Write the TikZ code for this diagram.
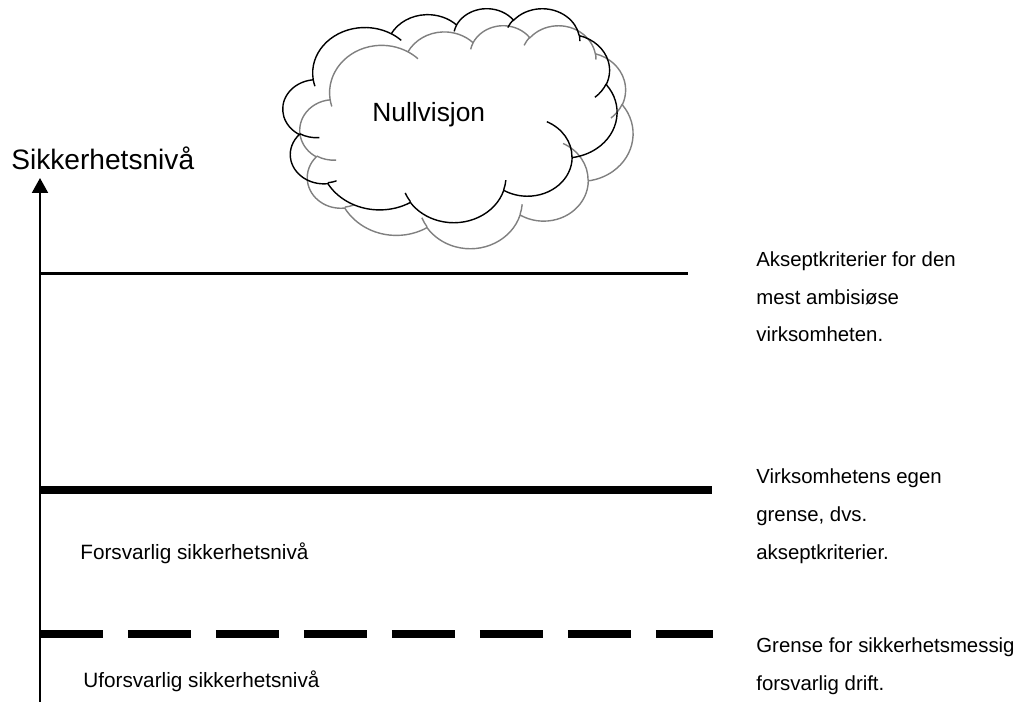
\documentclass[tikz,border=0pt]{standalone}
\usepackage{fontspec}
\setmainfont{Liberation Sans}
\usetikzlibrary{arrows.meta}

% one bump of the cloud: x radius, y radius, start angle, sweep
\newcommand\puffarc[4]{\pgfextra{%
	\pgfmathsetmacro\pa{atan2(sin(#3)/#2,cos(#3)/#1)}%
	\pgfmathsetmacro\pb{atan2(sin(#3+#4)/#2,cos(#3+#4)/#1)}%
	\pgfmathsetmacro\pb{\pb<\pa ? \pb+360 : \pb}}
	arc[start angle=\pa, end angle=\pb, x radius=#1, y radius=#2]}

\newcommand\cloudpath{%
	(3.9,14.37) \puffarc{6.753}{9.19}{-190.4875}{123.7805}
	\puffarc{5.333}{7.267}{-144.1024}{89.9452}
	\puffarc{4.365}{5.945}{-145.8079}{99.7230}
	\puffarc{4.857}{6.595}{-130.9861}{117.2417}
	\puffarc{5.333}{7.273}{-78.7089}{109.0269}
	\puffarc{6.775}{9.22}{-46.2673}{130.2690}
	\puffarc{5.785}{7.867}{0.6250}{114.0333}
	\puffarc{6.752}{9.215}{22.4516}{115.1726}
	\puffarc{7.72}{10.543}{66.2426}{75.7110}
	\puffarc{4.36}{5.918}{-274.9421}{146.7356}
	\puffarc{4.345}{5.945}{-246.8285}{152.5189} -- cycle
	(4.693,26.177) \puffarc{4.345}{5.945}{86.7420}{26.4295}
	(6.928,34.899) \puffarc{4.36}{5.918}{73.6105}{11.4475}
	(16.478,39.09) \puffarc{6.752}{9.215}{137.6242}{14.0811}
	(28.827,34.751) \puffarc{6.752}{9.215}{6.4533}{15.9984}
	(34.129,22.954) \puffarc{5.785}{7.867}{-70.2924}{70.9174}
	(41.798,15.354) \puffarc{5.333}{7.273}{30.3180}{27.7515}
	(38.324,5.426) \puffarc{4.857}{6.595}{-13.7443}{14.8589}
	(29.078,3.952) \puffarc{4.857}{6.595}{-149.1815}{18.1954}
	(22.141,4.72) \puffarc{4.365}{5.945}{-163.4943}{17.6864}
	(14.0,5.192) \puffarc{6.753}{9.19}{-66.7070}{12.3194}
	(4.127,15.789) \puffarc{6.753}{9.19}{157.6544}{11.8582}}

\begin{document}
\begin{tikzpicture}[x=0.02cm, y=-0.02cm,
	lbl/.style={anchor=base west, inner sep=0pt, font=\fontsize{11.6}{14}\selectfont},
	big/.style={anchor=base west, inner sep=0pt, font=\fontsize{15}{18}\selectfont},
	puff/.style={line width=0.8pt}]
	\useasboundingbox (0,0) rectangle (1028,702);

	\begin{scope}[shift={(300,25)}, x=0.15417cm, y=-0.10324cm]
	\draw[puff, gray] \cloudpath;
	\end{scope}
	\begin{scope}[shift={(283,8)}, x=0.15463cm, y=-0.09907cm]
	\draw[puff] \cloudpath;
	\end{scope}
	\node[big] (nv) at (372,122) {Nullvisjon};

	\draw[line width=1.4pt, -{Triangle[length=8.5pt,width=9pt]}] (40,702) to (40,178);
	\node[big, font=\fontsize{16}{19}\selectfont] (axis) at (11,170) {Sikkerhetsnivå};

	\draw[line width=1.5pt] (40,273.5) to (688,273.5);
	\draw[line width=4.5pt] (40,490) to (712,490);
	\draw[line width=4.5pt, dash pattern=on 1.26cm off 0.5cm] (40,634) to (713,634);

	\node[lbl, font=\fontsize{11.8}{14}\selectfont] (safe) at (80,559) {Forsvarlig sikkerhetsnivå};
	\node[lbl, font=\fontsize{11.8}{14}\selectfont] (unsafe) at (83,687) {Uforsvarlig sikkerhetsnivå};

	\node[lbl] (amb1) at (756,267) {Akseptkriterier for den};
	\node[lbl] (amb2) at (756,305) {mest ambisiøse};
	\node[lbl] (amb3) at (756,342) {virksomheten.};

	\node[lbl] (own1) at (756,483) {Virksomhetens egen};
	\node[lbl] (own2) at (756,521) {grense, dvs.};
	\node[lbl] (own3) at (756,559) {akseptkriterier.};

	\node[lbl] (lim1) at (756,652) {Grense for sikkerhetsmessig};
	\node[lbl] (lim2) at (756,690) {forsvarlig drift.};
\end{tikzpicture}
\end{document}
